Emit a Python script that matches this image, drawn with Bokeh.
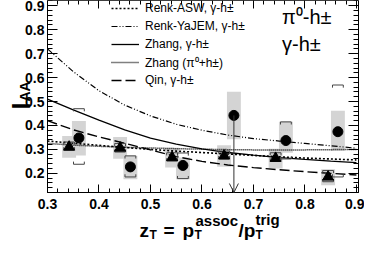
import math
import numpy as np
from bokeh.plotting import figure
from bokeh.models import (LinearAxis, Range1d, Label, Arrow, OpenHead, Legend, LegendItem,
                          ColumnDataSource, Whisker, TeeHead, SingleIntervalTicker, FixedTicker)
from bokeh.embed import file_html
from bokeh.resources import INLINE

# ---------------- data ----------------
zt_theory = [0.30, 0.35, 0.40, 0.45, 0.50, 0.55, 0.60, 0.65, 0.70, 0.75, 0.80, 0.85, 0.90]
renk_asw = [0.335, 0.326, 0.317, 0.308, 0.300, 0.293, 0.287, 0.281, 0.275, 0.269, 0.264, 0.260, 0.256]
renk_yajem = [0.720, 0.625, 0.545, 0.485, 0.440, 0.405, 0.380, 0.360, 0.345, 0.335, 0.325, 0.315, 0.305]
zhang_gamma = [0.510, 0.465, 0.422, 0.382, 0.347, 0.322, 0.302, 0.287, 0.276, 0.266, 0.258, 0.251, 0.245]
zhang_pi0 = [0.325, 0.318, 0.313, 0.309, 0.306, 0.303, 0.301, 0.299, 0.298, 0.298, 0.298, 0.299, 0.300]
qin_gamma = [0.420, 0.382, 0.352, 0.326, 0.298, 0.270, 0.250, 0.235, 0.224, 0.215, 0.207, 0.200, 0.193]

zt_pi0 = [0.342, 0.441, 0.542, 0.643, 0.743, 0.845]
iaa_pi0 = [0.310, 0.306, 0.266, 0.273, 0.263, 0.185]
pi0_box_lo = [0.265, 0.261, 0.224, 0.228, 0.220, 0.150]
pi0_box_hi = [0.356, 0.352, 0.307, 0.317, 0.303, 0.217]
pi0_brk_lo = [0.298, 0.289, 0.252, 0.261, 0.252, 0.165]
pi0_brk_hi = [0.331, 0.325, 0.286, 0.293, 0.286, 0.212]

zt_gam = [0.361, 0.461, 0.563, 0.662, 0.763, 0.864]
iaa_gam = [0.348, 0.227, 0.233, 0.442, 0.337, 0.374]
gam_box_lo = [0.275, 0.175, 0.175, 0.342, 0.286, 0.293]
gam_box_hi = [0.419, 0.274, 0.266, 0.541, 0.416, 0.461]
gam_brk_lo = [0.238, 0.185, 0.178, None, 0.260, 0.185]
gam_brk_hi = [0.470, 0.273, 0.285, None, 0.415, 0.569]
gam_stat_lo = [None, None, None, 0.442, 0.300, 0.328]
gam_stat_hi = [None, None, None, 0.533, 0.373, 0.419]
upper_limit_index = 3   # gamma point whose lower error reaches the axis (arrow)

legend_lines = ["Renk-ASW, γ-h±", "Renk-YaJEM, γ-h±", "Zhang, γ-h±", "Zhang (π⁰+h±)", "Qin, γ-h±"]
legend_points = ["π⁰-h±", "γ-h±"]

# ---------------- layout ----------------
X0, X1 = 0.3, 0.904          # plot box in data units
Y0, Y1 = 0.12, 0.922
W, H = 364, 240              # canvas
PAGE = 8
BOX_L, BOX_R, BOX_T, BOX_B = 55, 366, 8, 200   # plot box in page pixels
SX = (X1 - X0) / (BOX_R - BOX_L)
SY = (Y1 - Y0) / (BOX_B - BOX_T)


def dx(px):
    return X0 + (px - BOX_L) * SX


def dy(py):
    return Y0 + (BOX_B - py) * SY


FONT = "Liberation Sans"

p = figure(width=W, height=H, title=None,
           x_range=Range1d(dx(PAGE), dx(PAGE + W)), y_range=Range1d(dy(PAGE + H), dy(PAGE)),
           output_backend="svg", toolbar_location=None, x_axis_type=None, y_axis_type=None,
           min_border=0)
p.outline_line_color = None
p.border_fill_color = "white"
p.background_fill_color = "white"


def base_axis(ticker, side, loc, bounds, major_in, minor_in):
    ax = LinearAxis(ticker=ticker, fixed_location=loc, bounds=bounds)
    ax.axis_line_color = "black"
    ax.axis_line_width = 1
    ax.major_tick_line_color = "black"
    ax.minor_tick_line_color = "black"
    ax.major_tick_in = major_in
    ax.major_tick_out = 0
    ax.minor_tick_in = minor_in
    ax.minor_tick_out = 0
    ax.major_label_text_font = FONT
    ax.major_label_text_font_style = "bold"
    ax.major_label_text_font_size = "14px"
    ax.major_label_text_color = "black"
    p.add_layout(ax, side)
    return ax


ax_b = base_axis(SingleIntervalTicker(interval=0.1, num_minor_ticks=5), "below", Y0, (X0, X1), 8, 4)
ax_b.major_label_standoff = 6
ax_l = base_axis(SingleIntervalTicker(interval=0.1, num_minor_ticks=5), "left", X0, (Y0, Y1), 10, 5)
ax_l.major_label_standoff = 3

# mirrored tick marks on top and right (no labels)
x_major = np.round(np.arange(0.3, 0.9001, 0.1), 3).tolist()
x_minor = np.round(np.arange(0.3, 0.9041, 0.02), 3).tolist()
y_major = np.round(np.arange(0.2, 0.9001, 0.1), 3).tolist()
y_minor = np.round(np.arange(0.12, 0.9221, 0.02), 3).tolist()
base_axis(FixedTicker(ticks=[], minor_ticks=x_minor), "above", Y1, (X0, X1), 0, 4)
base_axis(FixedTicker(ticks=[], minor_ticks=x_major), "above", Y1, (X0, X1), 0, 8)
base_axis(FixedTicker(ticks=[], minor_ticks=y_minor), "right", X1, (Y0, Y1), 0, 5)
base_axis(FixedTicker(ticks=[], minor_ticks=y_major), "right", X1, (Y0, Y1), 0, 10)

GRAY = "#d4d4d4"

# systematic boxes
bw = 0.0135
p.quad(left=[x - bw for x in zt_pi0], right=[x + bw for x in zt_pi0],
       bottom=pi0_box_lo, top=pi0_box_hi, fill_color=GRAY, line_color=None)
p.quad(left=[x - bw for x in zt_gam], right=[x + bw for x in zt_gam],
       bottom=gam_box_lo, top=gam_box_hi, fill_color=GRAY, line_color=None)

# theory curves
r_asw = p.line(zt_theory, renk_asw, line_color="black", line_width=1.6, line_dash="2 2")
r_yaj = p.line(zt_theory, renk_yajem, line_color="black", line_width=1.2, line_dash="6 2 1 2 1 2")
r_zg = p.line(zt_theory, zhang_gamma, line_color="black", line_width=1.3)
r_zp = p.line(zt_theory, zhang_pi0, line_color="black", line_width=1.5, line_dash="1 1")
r_qin = p.line(zt_theory, qin_gamma, line_color="black", line_width=1.4, line_dash="10 4")

# brackets
brw = 0.0105
leg = 0.011


def brackets(xs, lo, hi):
    bx, by = [], []
    for x, l, h in zip(xs, lo, hi):
        if h is not None:
            bx.append([x - brw, x - brw, x + brw, x + brw])
            by.append([h - leg, h, h, h - leg])
        if l is not None:
            bx.append([x - brw, x - brw, x + brw, x + brw])
            by.append([l + leg, l, l, l + leg])
    return bx, by


bx, by = brackets(zt_pi0, pi0_brk_lo, pi0_brk_hi)
p.multi_line(bx, by, line_color="#444444", line_width=1)
bx, by = brackets(zt_gam, gam_brk_lo, gam_brk_hi)
p.multi_line(bx, by, line_color="#444444", line_width=1)

# statistical error bars
sx = [x for x, h in zip(zt_gam, gam_stat_hi) if h is not None]
slo = [l for l, h in zip(gam_stat_lo, gam_stat_hi) if h is not None]
shi = [h for h in gam_stat_hi if h is not None]
src = ColumnDataSource(dict(x=sx, lo=slo, hi=shi))
p.add_layout(Whisker(base="x", lower="lo", upper="hi", source=src, line_color="#333333",
                     line_width=1,
                     upper_head=TeeHead(size=6, line_color="#333333", line_width=1),
                     lower_head=TeeHead(size=6, line_color="#333333", line_width=1)))
p.add_layout(Arrow(end=OpenHead(size=9, line_color="#333333", line_width=1),
                   x_start=zt_gam[upper_limit_index], y_start=iaa_gam[upper_limit_index],
                   x_end=zt_gam[upper_limit_index], y_end=Y0,
                   line_color="#333333", line_width=1))

# markers
r_pi0 = p.scatter(zt_pi0, iaa_pi0, marker="triangle", size=11, color="black")
r_gam = p.scatter(zt_gam, iaa_gam, marker="circle", size=10, color="black")

# legend proxies (smaller symbols like the reference key)
lp_pi0 = p.scatter([], [], marker="triangle", size=8, color="black")
lp_gam = p.scatter([], [], marker="circle", size=8, color="black")

leg1 = Legend(items=[LegendItem(label=t, renderers=[r]) for t, r in
                     zip(legend_lines, [r_asw, r_yaj, r_zg, r_zp, r_qin])],
              location=(119 - PAGE, PAGE + H - 97), orientation="vertical",
              glyph_width=28, glyph_height=18,
              label_height=18, spacing=0, padding=0, margin=0, label_standoff=6,
              label_text_font=FONT, label_text_font_size="12px", label_text_color="black",
              border_line_color=None, background_fill_alpha=0)
p.add_layout(leg1)

leg2 = Legend(items=[LegendItem(label=t, renderers=[r]) for t, r in
                     zip(legend_points, [lp_pi0, lp_gam])],
              location=(273 - PAGE, PAGE + H - 65), orientation="vertical",
              glyph_width=12, glyph_height=26,
              label_height=26, spacing=1, padding=0, margin=0, label_standoff=5,
              label_text_font=FONT, label_text_font_size="20px", label_text_color="black",
              border_line_color=None, background_fill_alpha=0)
p.add_layout(leg2)


# ---------------- axis titles ----------------
def lab(text, px, py, size, angle=0.0):
    p.add_layout(Label(x=dx(px), y=dy(py), text=text, angle=angle, text_font=FONT,
                       text_font_size=f"{size}px", text_font_style="bold",
                       text_align="left", text_baseline="alphabetic", text_color="black"))


ROT = math.pi / 2
lab("I", 28, 117, 25, angle=ROT)
lab("AA", 32, 109, 14, angle=ROT)

lab("z", 147, 238, 19)
lab("T", 157, 242, 12)
lab("=", 171, 238, 19)
lab("p", 190, 238, 19)
lab("T", 202, 242, 12)
lab("assoc", 203, 228, 15)
lab("/p", 246, 238, 19)
lab("T", 263, 242, 12)
lab("trig", 263, 227, 15)

open("out.html", "w").write(file_html(p, INLINE))
